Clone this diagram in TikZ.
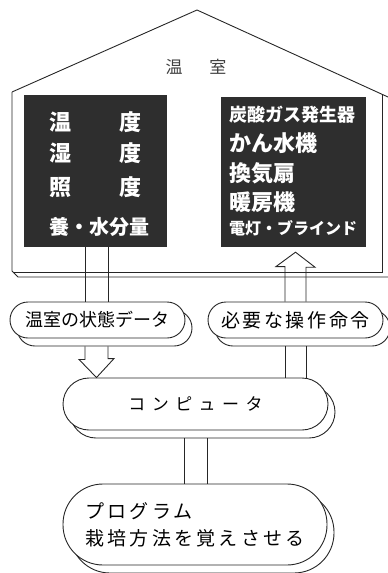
\documentclass[tikz,border=0pt]{standalone}
\usepackage{fontspec}
\setmainfont{Noto Sans CJK JP}
\usetikzlibrary{shadows,calc}
\tikzset{
  ln/.style={line width=0.9pt, black!85},
  pill/.style={draw=black!85, fill=white, line width=0.9pt, inner sep=0pt,
    general shadow={draw=black!85, fill=white, line width=0.9pt, shadow xshift=7pt, shadow yshift=-8pt}},
  darkbox/.style={fill=black!82, draw=none, inner sep=0pt},
  wtxt/.style={text=white, anchor=west, inner sep=0pt},
}
\begin{document}
\begin{tikzpicture}[x=1pt,y=-1pt]
\useasboundingbox (0,0) rectangle (388,573);
% house
\draw[ln] (12,92) -- (197,10) -- (388,97);
\draw[ln] (12,92) -- (12,271) -- (18,277) -- (388,277);
\draw[ln] (14,272) -- (382,272) -- (382,94);
\node[font=\fontsize{17}{17}\selectfont, text=black!75] (title) at (196,67) {温\hspace{27pt}室};
% dark boxes
\node[darkbox, minimum width=143pt, minimum height=152pt] (lbox) at (95.5,171) {};
\node[darkbox, minimum width=145pt, minimum height=150pt] (rbox) at (293.5,172) {};
\begin{scope}[font=\fontsize{22}{22}\selectfont\bfseries]
\node[wtxt] (l1) at (49,122) {\makebox[92pt][l]{温\hfill 度}};
\node[wtxt] (l2) at (49,153) {\makebox[92pt][l]{湿\hfill 度}};
\node[wtxt] (l3) at (49,187) {\makebox[92pt][l]{照\hfill 度}};
\node[wtxt, font=\fontsize{20}{20}\selectfont\bfseries] (l4) at (49,227) {養・水分量};
\end{scope}
\node[wtxt, font=\fontsize{18}{18}\selectfont\bfseries] (r1) at (229,115) {炭酸ガス発生器};
\node[wtxt, font=\fontsize{22}{22}\selectfont\bfseries] (r2) at (229,143) {かん水機};
\node[wtxt, font=\fontsize{22}{22}\selectfont\bfseries] (r3) at (229,173) {換気扇};
\node[wtxt, font=\fontsize{22}{22}\selectfont\bfseries] (r4) at (229,202) {暖房機};
\node[wtxt, font=\fontsize{16}{16}\selectfont\bfseries] (r5) at (229,228) {電灯・ブラインド};
% labels
\node[pill, minimum width=175pt, minimum height=36pt, rounded corners=18pt,
  font=\fontsize{18}{18}\selectfont] (lab1) at (97.5,320) {温室の状態データ};
\node[pill, minimum width=175pt, minimum height=36pt, rounded corners=18pt,
  font=\fontsize{19}{19}\selectfont\addfontfeature{LetterSpace=14}] (lab2) at (295.5,320) {必要な操作命令};
\node[pill, minimum width=265pt, minimum height=52pt, rounded corners=26pt,
  font=\fontsize{17}{17}\selectfont\addfontfeature{LetterSpace=38}] (comp) at (195.5,404) {コンピュータ};
\node[pill, minimum width=264pt, minimum height=81pt, rounded corners=40pt, align=left,
  font=\fontsize{19}{27}\selectfont\addfontfeature{LetterSpace=17}] (prog) at (195,524.5) {プログラム\\栽培方法を覚えさせる};
% helper coordinates
\coordinate (al) at (85,0); \coordinate (ar) at (108,0); \coordinate (ax) at (96.5,0);
\coordinate (bl) at (285,0); \coordinate (br) at (306,0); \coordinate (bx) at (295.5,0);
\coordinate (cl) at (184,0); \coordinate (cr) at (207,0);
\coordinate (lab1s) at ($(lab1.south)+(0,8)$);
\coordinate (lab2s) at ($(lab2.south)+(0,8)$);
\coordinate (comps) at ($(comp.south)+(0,8)$);
\coordinate (tip) at ($(bx|-rbox.south)+(0,5)$);
% down arrow (state data)
\draw[ln] (al|-lbox.south) -- (al|-lab1.north);
\draw[ln] (ar|-lbox.south) -- (ar|-lab1.north);
\draw[ln] (al|-lab1s) -- ++(0,13) -- ++(-6,0) -- (ax|-comp.north) -- ++(17.5,-19) -- ++(-6,0) -- (ar|-lab1s);
% up arrow (commands)
\draw[ln] (bl|-lab2.north) -- ++(0,-35) -- ++(-9,0) -- (tip) -- ++(19.5,15) -- ++(-9,0) -- (br|-lab2.north);
\draw[ln] (bl|-comp.north) -- (bl|-lab2s);
\draw[ln] (br|-comp.north) -- (br|-lab2s);
% computer - program
\draw[ln] (cl|-comps) -- (cl|-prog.north);
\draw[ln] (cr|-comps) -- (cr|-prog.north);
\end{tikzpicture}
\end{document}
